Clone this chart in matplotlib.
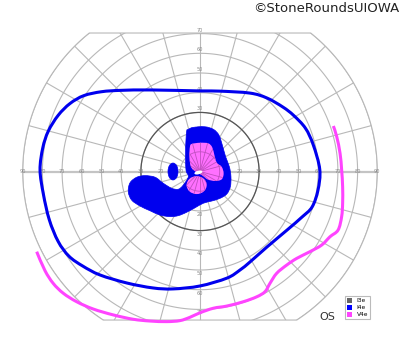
import numpy as np
import matplotlib
matplotlib.use('Agg')
import matplotlib.pyplot as plt
from matplotlib.path import Path
from matplotlib.patches import PathPatch, Polygon, Ellipse, Patch
from matplotlib.collections import LineCollection

# Isopter I4e (outer), degrees of visual field (x = horizontal, y = vertical)
i4e_x = [-50.0, -40.0, -25.0, 0.0, 10.0, 25.4, 34.0, 42.1, 47.5, 53.5, 57.5, 60.8,
         59.9, 56.9, 51.8, 44.2, 34.0, 25.4, 20.3, 13.7, 0.0, -13.7, -23.9, -37.1,
         -50.8, -59.5, -66.5, -72.0, -76.5, -79.5, -81.2, -79.8, -77.0, -72.0, -66.0, -59.0]
i4e_y = [40.5, 41.2, 41.4, 40.9, 40.8, 39.8, 37.3, 32.7, 28.5, 22.0, 13.5, 1.0,
         -9.4, -18.0, -23.1, -29.7, -38.3, -45.9, -50.0, -54.1, -58.1, -59.6, -59.1, -56.6,
         -52.5, -48.0, -43.0, -35.5, -24.5, -11.5, 0.8, 12.0, 20.5, 28.5, 34.5, 38.5]

# Isopter V4e (open curve, temporal / inferior)
v4e_x = [67.7, 69.4, 71.1, 71.9, 72.4, 72.4, 71.9, 70.1, 66.0, 61.8, 55.8, 49.1,
         44.0, 38.9, 35.5, 33.0, 28.8, 22.0, 13.6, 6.8, 0.0, -5.1, -10.2, -16.9,
         -25.4, -33.9, -44.0, -54.2, -62.6, -69.4, -74.5, -78.7, -82.9]
v4e_y = [23.1, 17.7, 9.2, 0.8, -7.7, -16.1, -22.9, -29.7, -33.1, -37.3, -40.7, -44.1,
         -47.5, -51.7, -56.8, -61.0, -63.6, -66.1, -68.3, -69.4, -71.7, -74.0, -75.7, -76.2,
         -75.9, -75.0, -72.8, -69.8, -66.1, -61.8, -56.8, -50.3, -40.7]

# central I4e area (filled)
central_x = [-5.9, -6.8, -7.3, -7.1, -5.9, -8.5, -11.0, -14.4, -18.6, -22.8, -27.9, -32.1,
             -35.5, -36.4, -34.7, -30.5, -25.4, -20.3, -15.2, -11.0, -6.8, -2.5, 1.7, 5.9,
             10.2, 13.6, 15.4, 15.7, 14.9, 13.0, 11.3, 9.6, 6.8, 2.5, -3.4]
central_y = [21.4, 20.2, 10.9, 0.8, -2.6, -6.9, -9.0, -8.5, -6.0, -2.9, -2.1, -2.9,
             -5.7, -10.3, -14.5, -17.5, -19.9, -22.1, -22.9, -22.4, -20.7, -18.4, -16.1, -15.0,
             -13.6, -11.4, -7.7, -2.6, 2.4, 7.5, 13.5, 18.5, 21.4, 22.7, 22.4]

# small separate I4e island
island = dict(xy=(-13.7, 0.0), w=5.1, h=8.6)

# V4e central areas
pink_x = [-5.1, -4.2, 0.0, 4.2, 6.2, 7.3, 8.5, 11.0, 12.0, 11.0, 7.6, 3.9, 0.9, -2.2, -4.6, -5.4]
pink_y = [12.6, 14.0, 14.6, 14.3, 12.3, 8.4, 4.5, 2.4, -0.9, -4.0, -4.8, -4.0, -1.8, -0.1, 2.4, 7.5]
pink_oval = dict(xy=(-1.7, -6.9), w=10.2, h=9.1)
hole = dict(xy=(-0.8, -0.5), w=4.2, h=1.8)

rings = [10, 20, 30, 40, 50, 60, 70, 80, 90]
h_labels = [10, 20, 30, 40, 50, 60, 70, 80, 90]
v_labels = [10, 20, 30, 40, 50, 60, 70]
legend_labels = ['I3e', 'I4e', 'V4e']
legend_colors = ['#666666', '#0000ff', '#ff44ff']

blue = '#0000ee'
magenta = '#ff44ff'
pink = '#ff70ff'
grid_c = '#b8b8b8'

top_lim, bot_lim = 70.3, -75.4


def smooth_path(xs, ys, closed):
    # bezier path running through the read points (Catmull-Rom style handles)
    p = np.column_stack([xs, ys]).astype(float)
    n = len(p)
    if closed:
        ext = np.vstack([p[-1:], p, p[:2]])
        nseg = n
    else:
        ext = np.vstack([p[:1], p, p[-1:]])
        nseg = n - 1
    verts = [ext[1]]
    codes = [Path.MOVETO]
    for i in range(1, nseg + 1):
        p0, p1, p2, p3 = ext[i - 1], ext[i], ext[i + 1], ext[i + 2]
        verts += [p1 + (p2 - p0) / 6, p2 - (p3 - p1) / 6, p2]
        codes += [Path.CURVE4] * 3
    if closed:
        verts.append(ext[1])
        codes.append(Path.CLOSEPOLY)
    return Path(verts, codes)


fig = plt.figure(figsize=(4, 3.52), dpi=100)
ax = fig.add_axes([0, 0, 1, 1])
ax.set_xlim(-101.5, 101.5)
ax.set_ylim(-91.62, 87.06)
ax.set_aspect('equal')
ax.axis('off')

# visible field region: circle of 90 deg cut by top and bottom lines
a1 = np.arcsin(top_lim / 90)
a2 = np.arcsin(bot_lim / 90)
t_right = np.linspace(a2, a1, 100)
t_left = np.linspace(np.pi - a1, np.pi - a2, 100)
bx = np.concatenate([90 * np.cos(t_right), 90 * np.cos(t_left)])
by = np.concatenate([90 * np.sin(t_right), 90 * np.sin(t_left)])
region = Polygon(np.column_stack([bx, by]), closed=True, facecolor='none',
                 edgecolor=grid_c, lw=0.8, zorder=1)
ax.add_patch(region)

# rings and meridians
t = np.linspace(0, 2 * np.pi, 361)
segs = []
for r in rings:
    segs.append(np.column_stack([r * np.cos(t), r * np.sin(t)]))
for a in range(15, 180, 15):
    th = np.radians(a)
    segs.append([[-100 * np.cos(th), -100 * np.sin(th)], [100 * np.cos(th), 100 * np.sin(th)]])
lc = LineCollection(segs, colors=grid_c, linewidths=0.8, zorder=1)
lc.set_clip_path(region)
ax.add_collection(lc)

hl, = ax.plot([-100, 100], [0, 0], color='#c4c4c4', lw=1.6, zorder=1)
hl.set_clip_path(region)

ax.plot(30 * np.cos(t), 30 * np.sin(t), color='#555555', lw=0.9, zorder=1.5)

for r in h_labels:
    for sgn in (-1, 1):
        ax.text(sgn * r, 0, str(r), fontsize=3.6, color='#8a8a8a', ha='center',
                va='center', zorder=2)
for r in v_labels:
    ax.text(0, r + 1.8, str(r), fontsize=3.6, color='#8a8a8a', ha='center', va='center', zorder=2)
    ax.text(0, -r - 1.8, str(r), fontsize=3.6, color='#8a8a8a', ha='center', va='center', zorder=2)

# central filled areas
ax.add_patch(PathPatch(smooth_path(central_x, central_y, True), facecolor=blue,
                       edgecolor=blue, lw=0.5, zorder=3))
ax.add_patch(Ellipse(island['xy'], island['w'], island['h'], facecolor=blue,
                     edgecolor=blue, lw=0.5, zorder=3))
pk1 = PathPatch(smooth_path(pink_x, pink_y, True), facecolor=pink,
                edgecolor='none', zorder=3.5)
pk2 = Ellipse(pink_oval['xy'], pink_oval['w'], pink_oval['h'], facecolor=pink,
              edgecolor='none', zorder=3.5)
ax.add_patch(pk1)
ax.add_patch(pk2)
for pk in (pk1, pk2):
    lc2 = LineCollection(segs, colors='#c050c0', linewidths=0.6, zorder=3.6)
    lc2.set_clip_path(pk)
    ax.add_collection(lc2)
ax.add_patch(Ellipse(hole['xy'], hole['w'], hole['h'], angle=15, facecolor='white',
                     edgecolor='none', zorder=3.7))

# isopter lines
ax.add_patch(PathPatch(smooth_path(i4e_x, i4e_y, True), facecolor='none',
                       edgecolor=blue, lw=2.2, zorder=4))
ax.add_patch(PathPatch(smooth_path(v4e_x, v4e_y, False), facecolor='none',
                       edgecolor=magenta, lw=2.2, capstyle='butt', zorder=4))

# legend and labels
handles = [Patch(facecolor=c, edgecolor='none') for c in legend_colors]
leg = fig.legend(handles, legend_labels, loc='lower right',
                 bbox_to_anchor=(0.9325, 0.085), bbox_transform=fig.transFigure,
                 fontsize=4.2, handlelength=0.9, handleheight=0.9, handletextpad=0.7,
                 labelspacing=0.25, borderpad=0.35, fancybox=False, framealpha=1)
leg.get_frame().set_edgecolor('#bbbbbb')
leg.get_frame().set_linewidth(0.8)

fig.text(327 / 400, 1 - 317 / 352, 'OS', ha='center', va='center', fontsize=8, color='#333333')
fig.text(0.9975, 1 - 9 / 352, '©StoneRoundsUIOWA', ha='right', va='center',
         fontsize=9.5, color='#222222')

fig.savefig('out.png', dpi=100)
